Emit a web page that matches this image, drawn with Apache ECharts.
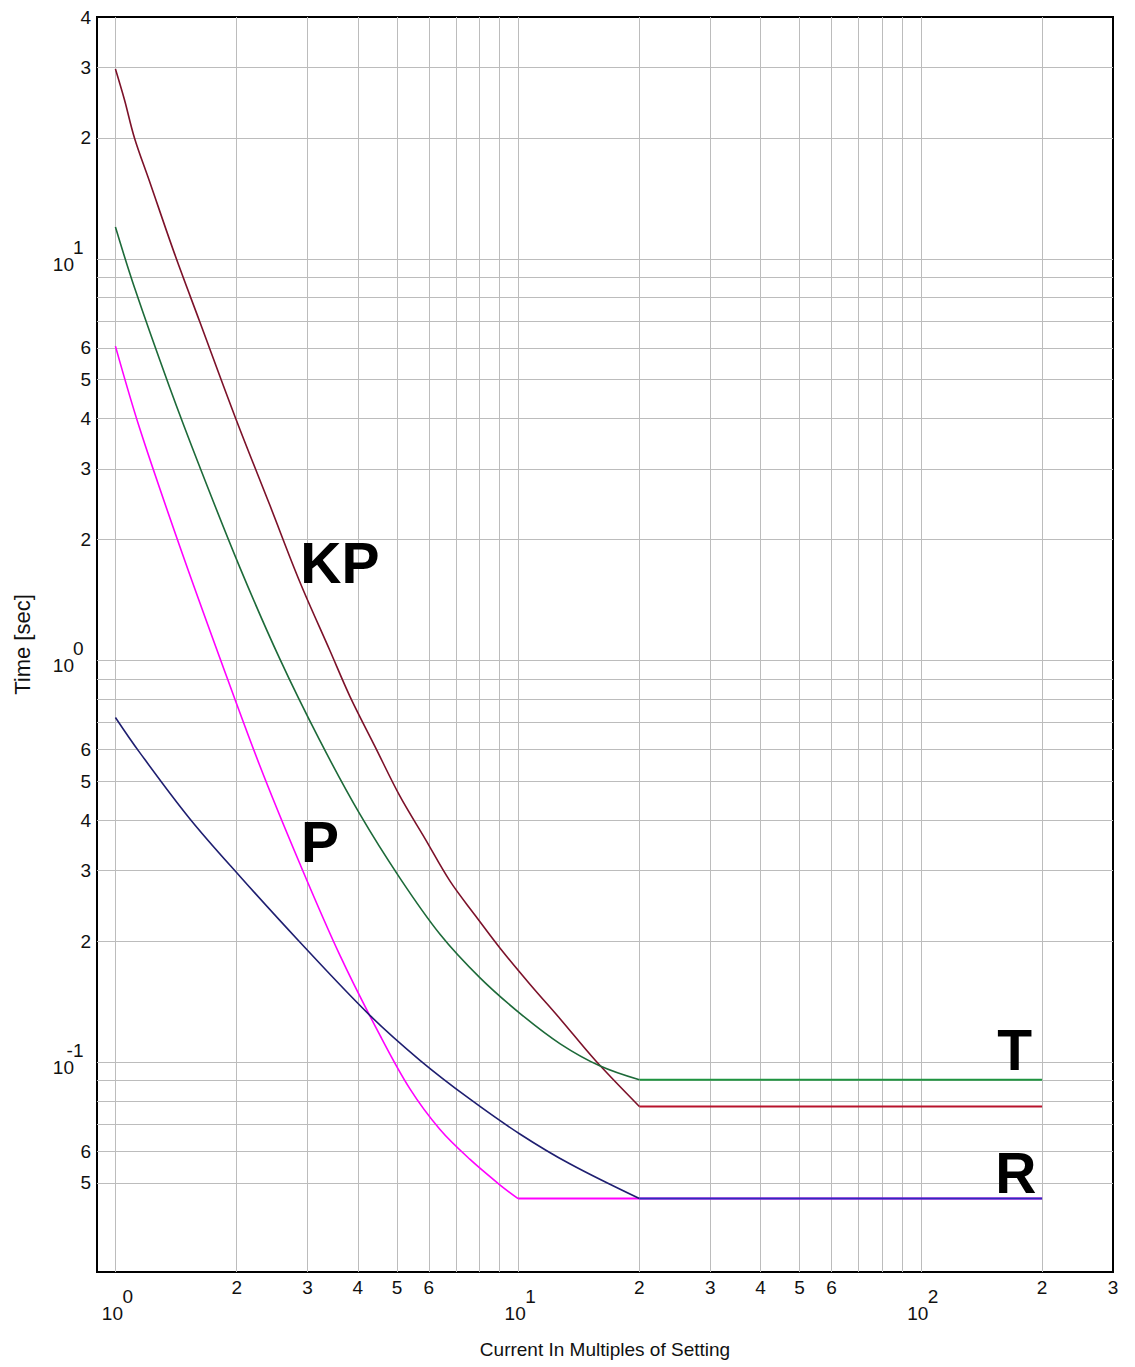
<!DOCTYPE html>
<html>
<head>
<meta charset="utf-8">
<script src="https://cdn.jsdelivr.net/npm/echarts@6/dist/echarts.min.js"></script>
<style>
html,body{margin:0;padding:0;background:#fff;}
#chart{width:1135px;height:1367px;}
</style>
</head>
<body>
<div id="chart"></div>
<script>
// ---- data; last point of each list ends the flat part ----
const kpX = [1, 1.053, 1.115, 1.215, 1.402, 1.618, 1.988, 2.416, 2.869, 3.406, 3.821, 4.409, 5.087, 5.871, 6.774, 7.818, 9.02, 10.71, 12.72, 15.54, 20, 200];
const kpY = [29.7, 24.9, 20.0, 15.6, 10.3, 6.99, 4.01, 2.44, 1.57, 1.06, 0.814, 0.611, 0.459, 0.360, 0.282, 0.232, 0.192, 0.156, 0.128, 0.101, 0.0775, 0.0775];

const tX = [1, 1.115, 1.363, 1.618, 2.034, 2.558, 3.217, 4.046, 5.087, 6.397, 8.043, 10.12, 12.72, 15.99, 20, 200];
const tY = [12.0, 8.48, 4.79, 3.04, 1.71, 1.01, 0.632, 0.414, 0.287, 0.208, 0.162, 0.132, 0.111, 0.0977, 0.0903, 0.0903];

const pX = [1, 1.147, 1.443, 1.815, 2.281, 2.869, 3.608, 4.537, 5.387, 6.397, 7.596, 9.02, 10.0, 200];
const pY = [6.06, 3.80, 1.93, 1.017, 0.548, 0.312, 0.1845, 0.1166, 0.0857, 0.0679, 0.0572, 0.0494, 0.0457, 0.0457];

const rX = [1, 1.147, 1.528, 2.034, 2.869, 4.283, 5.705, 7.596, 10.12, 13.47, 20, 200];
const rY = [0.721, 0.591, 0.404, 0.2905, 0.199, 0.1307, 0.101, 0.0808, 0.0661, 0.0557, 0.0457, 0.0457];

// axis ranges and ticks
const xMin = 0.9, xMax = 300;
const yMin = 0.03, yMax = 40;
const xGridValues = [1,2,3,4,5,6,7,8,9,10,20,30,40,50,60,70,80,90,100,200];
const xMinorLabels = [2,3,4,5,6,20,30,40,50,60,200,300];
const xDecadeLabels = [1,10,100];
const yGridValues = [0.05,0.06,0.07,0.08,0.09,0.1,0.2,0.3,0.4,0.5,0.6,0.7,0.8,0.9,1,2,3,4,5,6,7,8,9,10,20,30];
const yMinorLabels = [0.05,0.06,0.2,0.3,0.4,0.5,0.6,2,3,4,5,6,20,30,40];
const yDecadeLabels = [0.1,1,10];

const xTitle = 'Current In Multiples of Setting';
const yTitle = 'Time [sec]';

// curve annotations: [text, x, y] in data units
const notes = [
  ['KP', 3.61, 1.75],
  ['P', 3.22, 0.353],
  ['T', 171, 0.107],
  ['R', 172, 0.053]
];

// ---- styles ----
const FONT = '"Liberation Sans", Arial, sans-serif';
const curveColors = { KP: '#7c1129', T: '#1d6a39', P: '#ff00ff', R: '#1e1e70' };
const flatColors  = { KP: '#b8142c', T: '#1f9440', P: '#ff00ff', R: '#2d2dba' };

function pairs(xs, ys) { return xs.map((x, i) => [x, ys[i]]); }
function leadDigit(v) {
  const e = Math.floor(Math.log10(v) + 1e-9);
  return String(Math.round(v / Math.pow(10, e)));
}
function expOf(v) { return Math.round(Math.log10(v)); }

const chart = echarts.init(document.getElementById('chart'), null, { renderer: 'svg' });

function noteMark(name) {
  const n = notes.find(d => d[0] === name);
  return {
    symbol: 'circle', symbolSize: 0, silent: true,
    label: { show: true, position: 'inside', formatter: n[0], color: '#000',
      fontFamily: FONT, fontWeight: 'bold', fontSize: 57 },
    data: [{ coord: [n[1], n[2]] }]
  };
}

function curveSeries(name, xs, ys) {
  const all = pairs(xs, ys);
  const knee = all.length - 2;
  return [
    {
      name: name, type: 'line', xAxisIndex: 0, yAxisIndex: 0,
      data: all.slice(0, knee + 1), showSymbol: false, symbol: 'none',
      smooth: 0.35,
      lineStyle: { color: curveColors[name], width: 1.6 },
      itemStyle: { color: curveColors[name] }, z: 5,
      markPoint: noteMark(name)
    },
    {
      name: name, type: 'line', xAxisIndex: 0, yAxisIndex: 0,
      data: all.slice(knee), showSymbol: false, symbol: 'none', smooth: false,
      lineStyle: { color: flatColors[name], width: 2 },
      itemStyle: { color: flatColors[name] }, z: 5
    }
  ];
}

const option = {
  backgroundColor: '#ffffff',
  animation: false,
  textStyle: { fontFamily: FONT },
  grid: { left: 97, right: 22, top: 17, bottom: 95, show: true,
    borderColor: '#000', borderWidth: 2, backgroundColor: 'transparent' },
  xAxis: [
    { type: 'log', logBase: 10, min: xMin, max: xMax, position: 'bottom',
      name: xTitle, nameLocation: 'middle', nameGap: 68,
      nameTextStyle: { fontFamily: FONT, fontSize: 19, color: '#111' },
      axisLine: { show: false }, axisTick: { show: false, customValues: xGridValues },
      splitLine: { show: true, lineStyle: { color: '#bcbcbc', width: 1 } },
      axisLabel: { customValues: xMinorLabels, formatter: v => leadDigit(v), margin: 6,
        fontFamily: FONT, fontSize: 19, color: '#111' } },
    { type: 'log', logBase: 10, min: xMin, max: xMax, position: 'bottom', offset: 0,
      axisLine: { show: false }, axisTick: { show: false, customValues: xDecadeLabels },
      splitLine: { show: false },
      axisLabel: { customValues: xDecadeLabels, margin: 16,
        formatter: v => '{e|' + expOf(v) + '}\n{b|10}',
        rich: {
          e: { align: 'right', fontFamily: FONT, fontSize: 19, lineHeight: 17, color: '#111' },
          b: { fontFamily: FONT, fontSize: 19, lineHeight: 17, color: '#111', padding: [0, 10, 0, 4] }
        } } }
  ],
  yAxis: [
    { type: 'log', logBase: 10, min: yMin, max: yMax, position: 'left',
      name: yTitle, nameLocation: 'middle', nameGap: 64, nameRotate: 90,
      nameTextStyle: { fontFamily: FONT, fontSize: 22, color: '#111' },
      axisLine: { show: false }, axisTick: { show: false, customValues: yGridValues },
      splitLine: { show: true, lineStyle: { color: '#bcbcbc', width: 1 } },
      axisLabel: { customValues: yMinorLabels, formatter: v => leadDigit(v), margin: 6,
        fontFamily: FONT, fontSize: 19, color: '#111' } },
    { type: 'log', logBase: 10, min: yMin, max: yMax, position: 'left', offset: 0,
      axisLine: { show: false }, axisTick: { show: false, customValues: yDecadeLabels },
      splitLine: { show: false },
      axisLabel: { customValues: yDecadeLabels, margin: 13.5, padding: [0, 0, 6, 0],
        formatter: v => '{e|' + expOf(v) + '}\n{b|10}',
        rich: {
          e: { align: 'right', fontFamily: FONT, fontSize: 19, lineHeight: 17, color: '#111' },
          b: { fontFamily: FONT, fontSize: 19, lineHeight: 17, color: '#111', padding: [0, 9.5, 0, 0] }
        } } }
  ],
  series: [].concat(
    curveSeries('KP', kpX, kpY),
    curveSeries('T', tX, tY),
    curveSeries('P', pX, pY),
    curveSeries('R', rX, rY)
  )
};
chart.setOption(option);
</script>
</body>
</html>
